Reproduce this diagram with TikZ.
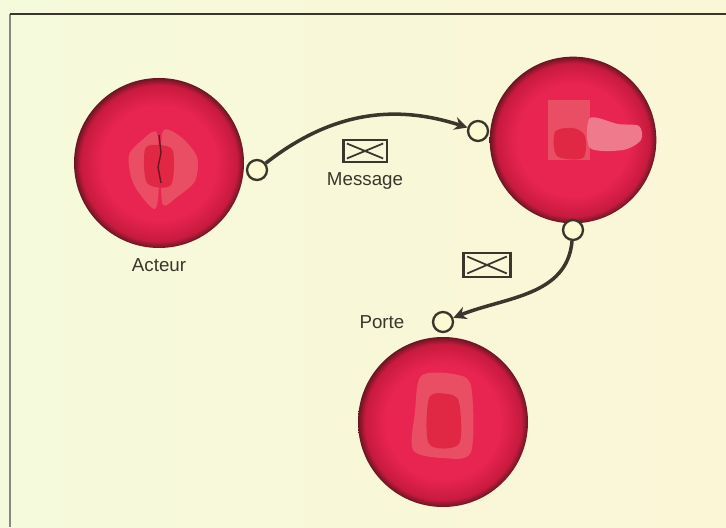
\documentclass[tikz,border=0pt]{standalone}
\usepackage{fontspec}
\setmainfont{Liberation Sans}
\usetikzlibrary{arrows.meta,positioning}
\definecolor{bgpale}{RGB}{251,250,210}
\definecolor{bgleft}{RGB}{246,250,220}
\definecolor{bgright}{RGB}{250,246,214}
\definecolor{ballmid}{RGB}{232,36,80}
\definecolor{balledge}{RGB}{200,26,62}
\definecolor{balldark}{RGB}{105,22,34}
\definecolor{blobpink}{RGB}{234,78,100}
\definecolor{blobred}{RGB}{224,40,68}
\definecolor{inkgrey}{RGB}{58,54,44}

% red sphere: flat crimson, dark rim
\pgfdeclareradialshading{redball}{\pgfpoint{0bp}{0bp}}{color(0bp)=(ballmid); color(17bp)=(ballmid); color(23bp)=(balledge); color(25bp)=(balldark); color(50bp)=(balldark)}

\tikzset{
  sphere/.style={circle,minimum size=5.1cm,inner sep=0pt,shading=redball},
  port/.style={circle,draw=inkgrey,line width=2pt,fill=bgpale,minimum size=0.6cm,inner sep=0pt},
  msg/.style={draw=inkgrey,line width=3pt,-{Stealth[length=11pt,width=11pt]}},
  lbl/.style={text=inkgrey,font=\fontsize{16}{18}\selectfont},
  envelope/.style={draw=inkgrey,line width=2pt,minimum width=1.3cm,minimum height=0.66cm,inner sep=0pt,
    path picture={
      \draw[inkgrey,line width=1.5pt]
        ([shift={(3pt,-3pt)}]path picture bounding box.north west) -- (path picture bounding box.center)
        -- ([shift={(-3pt,-3pt)}]path picture bounding box.north east)
        ([shift={(3pt,3pt)}]path picture bounding box.south west) -- (path picture bounding box.center)
        -- ([shift={(-3pt,3pt)}]path picture bounding box.south east);}},
  blob/.style={fill=blobpink},
  core/.style={fill=blobred}
}

\begin{document}
\begin{tikzpicture}[x=0.03cm,y=0.03cm]
\useasboundingbox (0,0) rectangle (726,527);
% Paper
\shade[left color=bgleft,middle color=bgpale,right color=bgright] (0,0) rectangle (726,527);
\draw[inkgrey!60,line width=1.6pt] (10,0) -- (10,513);
\draw[inkgrey,line width=1.6pt] (10,513) -- (726,513);
% Spheres
\node[sphere] (acteur) at (159,364) {};
\node[sphere,minimum size=5cm] (objets) at (573,387) {};
\node[sphere] (porte) at (443,105) {};
% Icons on the spheres
\begin{scope}[shift={(acteur.center)}]
\fill[blob] plot[smooth cycle] coordinates {(-2,30) (-18,22) (-30,8) (-28,-14) (-20,-30) (-4,-46) (0,-20)};
\fill[blob] plot[smooth cycle] coordinates {(4,32) (22,26) (38,6) (36,-18) (18,-34) (4,-42) (2,-10)};
\fill[core] plot[smooth cycle] coordinates {(-14,14) (0,18) (14,12) (12,-22) (-12,-20)};
\draw[balldark,line width=1.2pt] (0,28) -- (2,10) -- (-1,-4) -- (2,-20);
\end{scope}
\begin{scope}[shift={(objets.center)}]
\fill[blob] (-25,40) rectangle (17,-20);
\fill[blobpink!75!white] plot[smooth cycle] coordinates {(17,22) (45,16) (66,14) (68,0) (50,-10) (17,-8)};
\fill[core] plot[smooth cycle] coordinates {(-18,8) (0,12) (12,4) (10,-18) (-16,-16)};
\end{scope}
\begin{scope}[shift={(porte.center)}]
\fill[blob] plot[smooth cycle] coordinates {(-22,46) (10,48) (28,36) (28,-30) (0,-36) (-30,-28) (-28,10)};
\fill[core] plot[smooth cycle] coordinates {(-14,24) (4,28) (16,20) (16,-22) (-14,-22)};
\end{scope}
% Ports
\node[port] (pActeur) at (257,357) {};
\node[port] (pObjIn) at (478,396) {};
\node[port] (pObjOut) at (573,297) {};
\node[port] (pPorte) at (443,205) {};
% Messages
\draw[msg] (pActeur) to[bend left=28] (pObjIn);
\draw[msg] (pObjOut) to[out=-95,in=22] (pPorte);
\node[envelope] (env1) at (365,376) {};
\node[envelope,minimum width=1.4cm,minimum height=0.72cm] (env2) at (487,262) {};
% Labels
\node[lbl,below=0.15cm of env1] (msgLbl) {Message};
\node[lbl,below=0.2cm of acteur] (acteurLbl) {Acteur};
\node[lbl,left=0.7cm of pPorte] (porteLbl) {Porte};
\end{tikzpicture}
\end{document}
